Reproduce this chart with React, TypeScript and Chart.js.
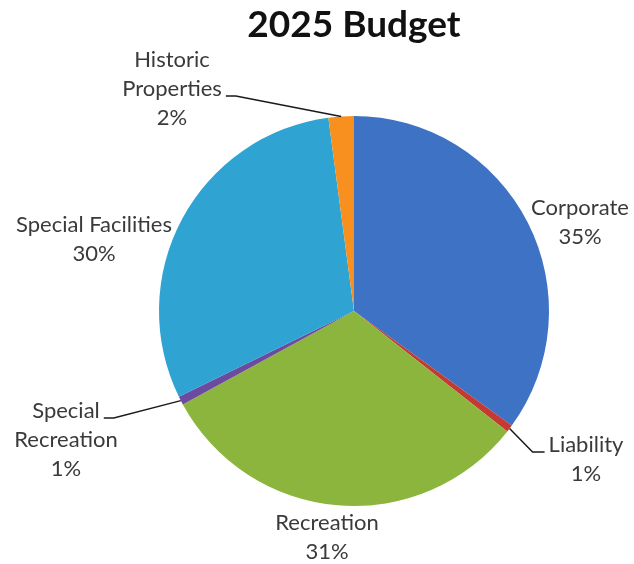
import React, { useEffect, useRef } from "react";
import { Chart, registerables } from "chart.js";

Chart.register(...registerables);

const chartTitle = "2025 Budget";
const categories = [
  "Corporate",
  "Liability",
  "Recreation",
  "Special Recreation",
  "Special Facilities",
  "Historic Properties",
];
const budgetShares = [35.0, 0.6, 31.45, 0.7, 30.15, 2.1];
const labelLines = [
  ["Corporate"],
  ["Liability"],
  ["Recreation"],
  ["Special", "Recreation"],
  ["Special Facilities"],
  ["Historic", "Properties"],
];
const sliceColors = ["#3D72C4", "#C43A32", "#8BB53C", "#6B4AA0", "#2FA3D1", "#F7901E"];

// label placement relative to pie centre (px at radius 195)
const labelOffsets = [
  [226, -103],
  [232, 134],
  [-27, 212],
  [-288, 100],
  [-260, -86],
  [-182, -251],
];
// leader lines: which text line, which side
const leaders: ({ line: number; side: "left" | "right" } | null)[] = [
  null,
  { line: 0, side: "left" },
  null,
  { line: 0, side: "right" },
  null,
  { line: 1, side: "right" },
];

const LINE_H = 29;
const LABEL_FONT = '22px Lato, "Open Sans", sans-serif';

const labelPlugin = {
  id: "pieLabels",
  afterDraw(chart: any) {
    const ctx = chart.ctx as CanvasRenderingContext2D;
    const meta = chart.getDatasetMeta(0);
    const values = chart.data.datasets[0].data as number[];
    const total = values.reduce((a, b) => a + b, 0);
    ctx.save();
    meta.data.forEach((arc: any, i: number) => {
      const { x, y, startAngle, endAngle, outerRadius } = arc.getProps(
        ["x", "y", "startAngle", "endAngle", "outerRadius"],
        true
      );
      const scale = outerRadius / 195;
      const lx = x + labelOffsets[i][0] * scale;
      const ly = y + labelOffsets[i][1] * scale;
      const pct = Math.round((values[i] / total) * 100) + "%";
      const lines = [...labelLines[i], pct];
      ctx.font = LABEL_FONT;
      ctx.fillStyle = "#3a3a3a";
      ctx.textAlign = "center";
      ctx.textBaseline = "middle";
      lines.forEach((t, k) => ctx.fillText(t, lx, ly + k * LINE_H));

      const ld = leaders[i];
      if (ld) {
        const mid = (startAngle + endAngle) / 2;
        const ax = x + Math.cos(mid) * outerRadius;
        const ay = y + Math.sin(mid) * outerRadius;
        const w = ctx.measureText(lines[ld.line]).width;
        const ty = ly + ld.line * LINE_H + 7;
        const ex = ld.side === "right" ? lx + w / 2 + 4 : lx - w / 2 - 4;
        const hx = ld.side === "right" ? ex + 10 : ex - 12;
        ctx.beginPath();
        ctx.moveTo(ex, ty);
        ctx.lineTo(hx, ty);
        ctx.lineTo(ax, ay);
        ctx.strokeStyle = "#1a1a1a";
        ctx.lineWidth = 1.5;
        ctx.stroke();
      }
    });
    // title
    const c = meta.data[0].getProps(["x"], true);
    ctx.font = 'bold 37px Lato, "Open Sans", sans-serif';
    ctx.fillStyle = "#111";
    ctx.textAlign = "center";
    ctx.textBaseline = "middle";
    ctx.fillText(chartTitle, c.x, 25);
    ctx.restore();
  },
};

export default function App() {
  const ref = useRef<HTMLCanvasElement>(null);
  useEffect(() => {
    document.body.style.margin = "0";
    const chart = new Chart(ref.current!, {
      type: "pie",
      data: {
        labels: categories,
        datasets: [
          {
            data: budgetShares,
            backgroundColor: sliceColors,
            borderWidth: 0,
          },
        ],
      },
      options: {
        responsive: false,
        animation: false,
        layout: { padding: { left: 159, right: 85, top: 116, bottom: 58 } },
        plugins: {
          legend: { display: false },
          tooltip: { enabled: false },
          title: { display: false },
        },
      },
      plugins: [labelPlugin],
    });
    return () => chart.destroy();
  }, []);
  return (
    <div style={{ width: 634, height: 564, background: "#fff" }}>
      <canvas ref={ref} width={634} height={564} style={{ display: "block" }} />
    </div>
  );
}
